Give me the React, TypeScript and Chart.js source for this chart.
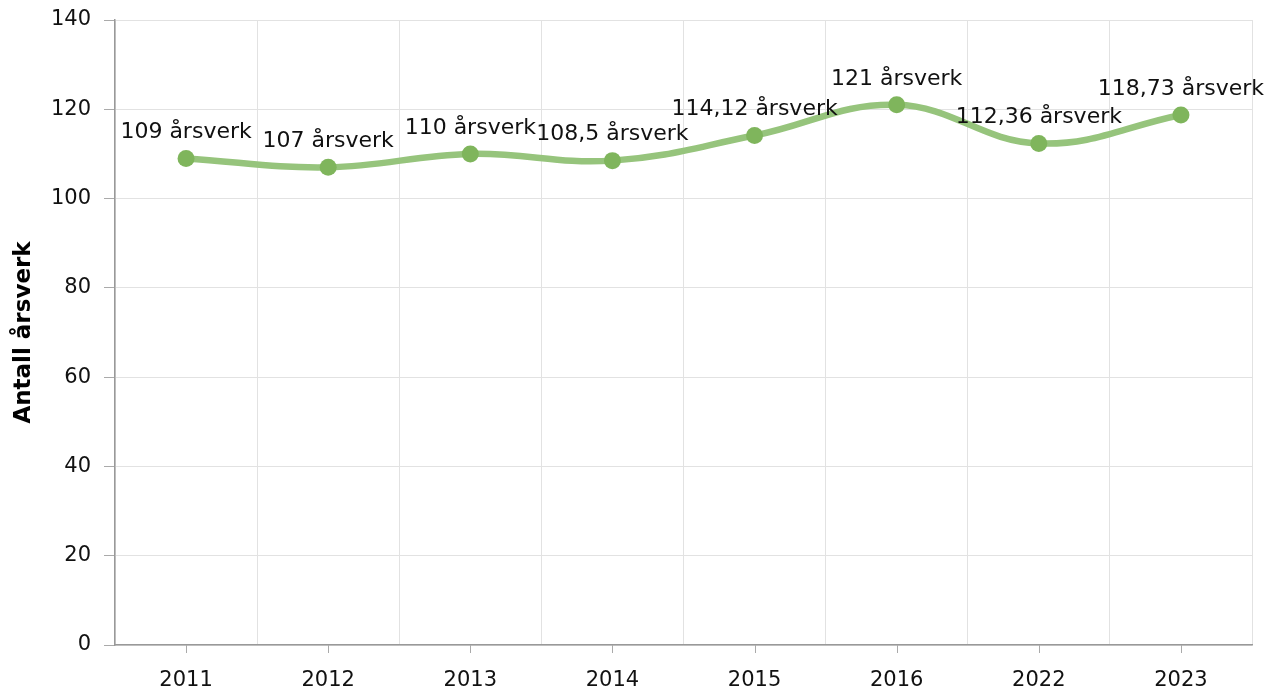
import React, { useEffect, useRef } from "react";
import { Chart, registerables } from "chart.js";

Chart.register(...registerables);

const categories = ["2011", "2012", "2013", "2014", "2015", "2016", "2022", "2023"];
const values = [109, 107, 110, 108.5, 114.12, 121, 112.36, 118.73];
const yTicks = [0, 20, 40, 60, 80, 100, 120, 140];
const unit = "årsverk";
const yTitle = "Antall årsverk";

const FONT = "'DejaVu Sans', Verdana, sans-serif";

const labelPlugin = {
  id: "pointLabels",
  afterDatasetsDraw(chart: any) {
    const ctx = chart.ctx;
    const meta = chart.getDatasetMeta(0);
    ctx.save();
    ctx.font = `22px ${FONT}`;
    ctx.fillStyle = "#111";
    ctx.textAlign = "center";
    ctx.textBaseline = "middle";
    meta.data.forEach((pt: any, i: number) => {
      const v = values[i];
      const txt = `${String(v).replace(".", ",")} ${unit}`;
      ctx.fillText(txt, pt.x, pt.y - 26);
    });
    ctx.restore();
  },
};

const centerTicks = {
  id: "centerTicks",
  afterDraw(chart: any) {
    const ctx = chart.ctx;
    const xs = chart.scales.x;
    const bottom = chart.chartArea.bottom;
    ctx.save();
    ctx.strokeStyle = "#aaaaaa";
    ctx.lineWidth = 1;
    categories.forEach((_, i) => {
      const x = Math.round(xs.getPixelForValue(i)) + 0.5;
      ctx.beginPath();
      ctx.moveTo(x, bottom);
      ctx.lineTo(x, bottom + 8);
      ctx.stroke();
    });
    ctx.restore();
  },
};

export default function App() {
  const ref = useRef<HTMLCanvasElement>(null);
  useEffect(() => {
    document.body.style.margin = "0";
    const chart = new Chart(ref.current!, {
      type: "line",
      data: {
        labels: categories,
        datasets: [
          {
            data: values,
            borderColor: "rgb(150,196,124)",
            borderWidth: 6.5,
            tension: 0.4,
            pointRadius: 8.5,
            pointHoverRadius: 8.5,
            pointBackgroundColor: "rgb(127,181,92)",
            pointBorderColor: "rgb(127,181,92)",
            pointBorderWidth: 0,
            clip: false as any,
          },
        ],
      },
      options: {
        animation: false,
        responsive: false,
        maintainAspectRatio: false,
        layout: { padding: { top: 20, right: 18, left: 0, bottom: 0 } },
        plugins: { legend: { display: false }, tooltip: { enabled: false } },
        scales: {
          x: {
            type: "category",
            offset: true,
            afterFit(scale: any) {
              scale.height = 46;
              scale.paddingLeft = 0;
              scale.paddingRight = 0;
            },
            grid: {
              offset: true,
              color: "#e2e2e2",
              drawTicks: false,
            },
            border: { color: "#999999", width: 1.5 },
            ticks: {
              color: "#111",
              font: { family: FONT, size: 21 },
              padding: 23,
              maxRotation: 0,
            },
          },
          y: {
            min: 0,
            max: 140,
            afterFit(scale: any) {
              scale.width = 115;
              scale.paddingTop = 0;
              scale.paddingBottom = 0;
            },
            afterBuildTicks(scale: any) {
              scale.ticks = yTicks.map((v) => ({ value: v }));
            },
            grid: {
              color: "#e2e2e2",
              tickColor: "#aaaaaa",
              tickLength: 11,
            },
            border: { color: "#999999", width: 1.5 },
            ticks: {
              color: "#111",
              font: { family: FONT, size: 21 },
              padding: 13,
            },
            title: {
              display: true,
              text: yTitle,
              color: "#000",
              font: { family: FONT, size: 23, weight: "bold" },
              padding: { top: 10, bottom: 0 },
            },
          },
        },
      },
      plugins: [labelPlugin, centerTicks],
    });
    return () => chart.destroy();
  }, []);
  return (
    <div style={{ width: 1270, height: 691 }}>
      <canvas ref={ref} width={1270} height={691} style={{ display: "block" }} />
    </div>
  );
}
